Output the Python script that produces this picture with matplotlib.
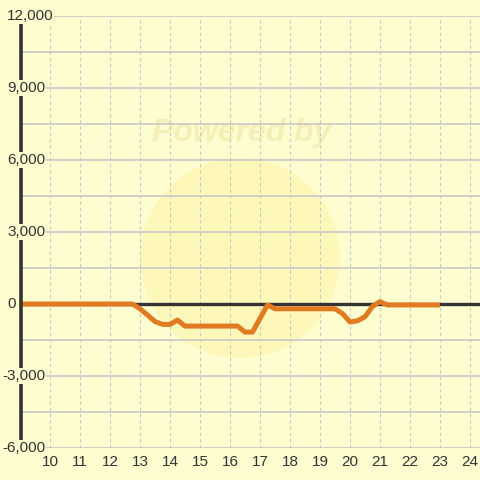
import matplotlib
matplotlib.use("Agg")
import matplotlib.pyplot as plt
from matplotlib.patches import Circle
import matplotlib.transforms as mtrans

plt.rcParams['font.family'] = ['Liberation Sans', 'DejaVu Sans']

hours = [9.0, 12.75, 13.0, 13.25, 13.5, 13.75, 14.0, 14.25, 14.5, 15.0, 15.5, 16.0,
         16.25, 16.5, 16.75, 17.0, 17.25, 17.5, 18.0, 18.5, 19.0, 19.5, 19.75, 20.0,
         20.25, 20.5, 20.75, 21.0, 21.25, 21.5, 22.0, 22.5, 23.0]
values = [0, 0, -200, -460, -730, -850, -850, -670, -920, -920, -920, -920,
          -920, -1170, -1170, -600, -40, -200, -200, -200, -200, -200, -400, -750,
          -700, -530, -100, 100, -40, -40, -40, -40, -40]
x_ticks = list(range(10, 25))
y_ticks = [12000, 9000, 6000, 3000, 0, -3000, -6000]
y_tick_labels = ["12,000", "9,000", "6,000", "3,000", "0", "-3,000", "-6,000"]

bg = "#FDFDD0"
fig = plt.figure(figsize=(4.8, 4.8), dpi=100, facecolor=bg)
ax = fig.add_axes([20/480, 32/480, 460/480, 432/480])
ax.set_facecolor(bg)
ax.set_xlim(9, 9 + 460/30)
ax.set_ylim(-6000, 12000)

# watermark (figure-pixel based so the circle stays round)
circ = Circle((240/480, 1 - 258/480), 100/480, transform=fig.transFigure,
              facecolor="#FFF3A8", alpha=0.55, edgecolor="none", zorder=0)
ax.add_patch(circ)
ax.text(242/480, 1 - 133/480, "Powered by", transform=fig.transFigure, ha="center",
        va="center", fontsize=23, fontweight="bold", style="italic", color="#F3EBB0",
        alpha=0.8, zorder=0)

for y in range(-6000, 12001, 1500):
    ax.axhline(y, color="#C8C8C8", lw=1.2, zorder=1)
for x in x_ticks:
    ax.axvline(x, color="#C4C4C4", lw=0.75, ls=(0, (3, 3)), zorder=1)

ax.axhline(0, color="#333333", lw=2.4, zorder=2)
ax.plot(hours, values, color="#E07B22", lw=3.6, solid_joinstyle="round",
        solid_capstyle="butt", zorder=3)

for s in ["top", "right", "bottom"]:
    ax.spines[s].set_visible(False)
ax.spines["left"].set_color("#333333")
ax.spines["left"].set_linewidth(2.6)
ax.spines["left"].set_position(("outward", -1))
ax.spines["left"].set_zorder(4)

ax.set_xticks(x_ticks)
ax.set_xticklabels([str(x) for x in x_ticks])
ax.tick_params(axis="x", length=0, pad=5, labelsize=11, labelcolor="#333333")
ax.set_yticks([])

trans = mtrans.blended_transform_factory(fig.transFigure, ax.transData)
for yv, lab in zip(y_ticks, y_tick_labels):
    xp = 7/480 if not lab.startswith("-") else 2/480
    ax.text(xp, yv, lab, transform=trans, ha="left", va="center", fontsize=11,
            color="#333333", zorder=5, clip_on=False,
            bbox=dict(facecolor=bg, edgecolor="none", pad=0.5))

fig.savefig("out.png", dpi=100, facecolor=bg)
